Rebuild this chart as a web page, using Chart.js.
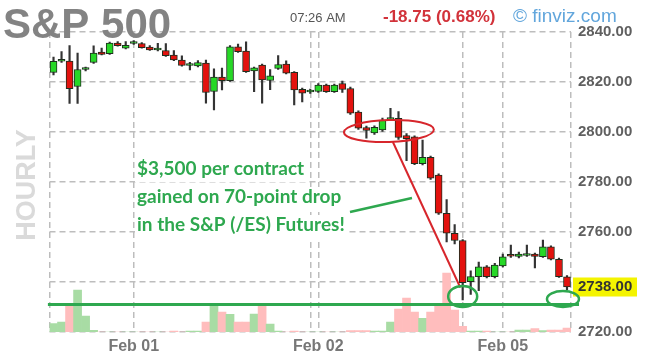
<!DOCTYPE html>
<html>
<head>
<meta charset="utf-8">
<script src="https://cdn.jsdelivr.net/npm/chart.js@4/dist/chart.umd.min.js"></script>
<style>
	body { margin: 0; background: #fff; }
	#box { width: 648px; height: 364px; }
</style>
</head>
<body>
<div id="box"><canvas id="es" width="648" height="364"></canvas></div>
<script>
// hourly bars, E-mini S&P futures
var hours = [
	'Jan 31 13:00','Jan 31 14:00','Jan 31 15:00','Jan 31 16:00','Jan 31 18:00','Jan 31 19:00','Jan 31 20:00','Jan 31 21:00','Jan 31 22:00','Jan 31 23:00',
	'Feb 01 00:00','Feb 01 01:00','Feb 01 02:00','Feb 01 03:00','Feb 01 04:00','Feb 01 05:00','Feb 01 06:00','Feb 01 07:00','Feb 01 08:00','Feb 01 09:00',
	'Feb 01 10:00','Feb 01 11:00','Feb 01 12:00','Feb 01 13:00','Feb 01 14:00','Feb 01 15:00','Feb 01 16:00','Feb 01 18:00','Feb 01 19:00','Feb 01 20:00',
	'Feb 01 21:00','Feb 01 22:00','Feb 01 23:00',
	'Feb 02 00:00','Feb 02 01:00','Feb 02 02:00','Feb 02 03:00','Feb 02 04:00','Feb 02 05:00','Feb 02 06:00','Feb 02 07:00','Feb 02 08:00','Feb 02 09:00',
	'Feb 02 10:00','Feb 02 11:00','Feb 02 12:00','Feb 02 13:00','Feb 02 14:00','Feb 02 15:00','Feb 02 16:00',
	'Feb 04 18:00','Feb 04 19:00','Feb 04 20:00','Feb 04 21:00','Feb 04 22:00','Feb 04 23:00',
	'Feb 05 00:00','Feb 05 01:00','Feb 05 02:00','Feb 05 03:00','Feb 05 04:00','Feb 05 05:00','Feb 05 06:00','Feb 05 07:00','Feb 05 08:00'
]

var open = [2823.8, 2828.3, 2828.4, 2818.2, 2825.0, 2827.8, 2832.0, 2831.3, 2835.6, 2833.5,
	2835.4, 2835.4, 2834.0, 2832.8, 2832.6, 2830.8, 2828.8, 2826.6, 2826.4, 2827.6,
	2816.2, 2822.0, 2820.5, 2834.1, 2832.4, 2824.4, 2826.8, 2820.6, 2825.4, 2827.2,
	2823.9, 2817.1, 2816.0, 2816.2, 2818.8, 2816.1, 2819.4, 2817.4, 2808.0, 2801.8,
	2799.6, 2800.8, 2805.0, 2805.5, 2798.6, 2798.1, 2787.3, 2789.9, 2782.8, 2767.5,
	2759.5, 2756.6, 2740.1, 2742.1, 2746.1, 2742.1, 2746.4, 2751.0, 2750.2, 2750.6,
	2751.2, 2750.1, 2754.1, 2749.1, 2742.1]
var high = [2830.0, 2832.2, 2834.6, 2831.6, 2826.0, 2834.5, 2833.6, 2836.0, 2836.2, 2836.2,
	2836.6, 2835.8, 2834.6, 2835.5, 2835.4, 2832.6, 2830.5, 2827.9, 2828.6, 2828.8,
	2825.3, 2825.6, 2834.6, 2835.2, 2836.1, 2826.0, 2827.2, 2825.0, 2830.6, 2828.5,
	2824.2, 2817.6, 2817.2, 2819.4, 2819.2, 2819.2, 2820.4, 2818.0, 2808.5, 2802.4,
	2802.5, 2805.6, 2809.5, 2808.2, 2799.4, 2798.5, 2796.8, 2790.4, 2783.3, 2773.0,
	2763.0, 2757.0, 2744.5, 2748.0, 2746.6, 2747.5, 2751.2, 2754.8, 2752.0, 2754.8,
	2751.6, 2756.8, 2754.5, 2749.6, 2742.6]
var low = [2822.8, 2827.8, 2811.4, 2811.4, 2824.4, 2827.4, 2830.8, 2831.0, 2834.3, 2833.2,
	2835.0, 2833.5, 2832.6, 2832.4, 2830.2, 2828.5, 2826.3, 2824.8, 2826.0, 2811.5,
	2808.8, 2816.8, 2820.2, 2831.8, 2823.8, 2816.1, 2811.5, 2816.9, 2825.0, 2823.2,
	2810.8, 2812.0, 2815.4, 2815.8, 2815.8, 2815.8, 2815.8, 2807.0, 2801.0, 2797.5,
	2799.0, 2800.2, 2804.5, 2797.0, 2788.5, 2786.9, 2786.8, 2781.0, 2767.0, 2756.0,
	2755.2, 2732.8, 2735.0, 2736.5, 2741.6, 2741.6, 2746.0, 2749.8, 2749.6, 2750.2,
	2745.6, 2749.8, 2748.8, 2741.8, 2736.8]
var close = [2828.3, 2828.6, 2817.3, 2825.0, 2825.2, 2831.6, 2831.0, 2835.6, 2834.5, 2834.7,
	2835.6, 2833.7, 2832.8, 2833.0, 2830.5, 2828.8, 2826.6, 2826.9, 2827.8, 2815.8,
	2822.0, 2820.5, 2834.1, 2832.1, 2824.1, 2825.7, 2820.8, 2822.5, 2827.0, 2823.5,
	2816.8, 2815.5, 2816.6, 2818.8, 2816.1, 2818.8, 2817.0, 2807.5, 2801.5, 2800.6,
	2801.9, 2804.8, 2805.4, 2797.8, 2797.3, 2787.3, 2789.9, 2781.5, 2767.5, 2759.5,
	2756.6, 2739.7, 2742.2, 2746.1, 2742.1, 2746.8, 2750.1, 2750.3, 2751.2, 2751.2,
	2750.2, 2754.1, 2749.1, 2742.1, 2738.0]
var volume = [2100, 2500, 6500, 10500, 4000, 400, 0, 0, 0, 0,
	0, 0, 0, 0, 0, 250, 0, 250, 250, 2500,
	6500, 5000, 4400, 2500, 2500, 4500, 6500, 1950, 250, 0,
	250, 0, 0, 0, 0, 0, 0, 375, 375, 375,
	250, 250, 2500, 5750, 8500, 5000, 3400, 5000, 7000, 14750,
	5500, 1400, 250, 250, 250, 0, 0, 0, 500, 500,
	850, 375, 500, 500, 1000]

var priceTicks = [2720, 2740, 2760, 2780, 2800, 2820, 2840]
var dayLines = ['Feb 01 00:00', 'Feb 02 00:00', 'Feb 04 19:00', 'Feb 05 00:00']
var dayNames = ['Feb 01', 'Feb 02', '', 'Feb 05']
var noteLines = ['$3,500 per contract', 'gained on 70-point drop', 'in the S&P (/ES) Futures!']

var GRID = '#bdbdbd'
var DASH = [6, 4]
var FONT = 'Liberation Sans'

function up(i) { return close[i] >= open[i] }

var overlay = {
	id: 'overlay',
	afterDraw: function(chart)
	{
		var c = chart.ctx
		var x = chart.scales.x
		var y = chart.scales.y
		var last = close[close.length - 1]

		c.save()
		// header
		c.textBaseline = 'alphabetic'
		c.fillStyle = '#838383'
		c.font = 'bold 42px ' + FONT
		c.fillText('S&P 500', 3, 38)
		c.fillStyle = '#555'
		c.font = '13px ' + FONT
		c.fillText('07:26 AM', 290, 22)
		c.fillStyle = '#d2323a'
		c.font = 'bold 17px ' + FONT
		c.fillText('-18.75 (0.68%)', 383, 22)
		c.fillStyle = '#62a6dc'
		c.font = '19px ' + FONT
		c.fillText('\u00a9 finviz.com', 513, 22)

		// side label
		c.save()
		c.translate(28, 185)
		c.rotate(-Math.PI / 2)
		c.textAlign = 'center'
		c.textBaseline = 'middle'
		c.fillStyle = '#dadada'
		c.font = 'bold 27px ' + FONT
		c.fillText('HOURLY', 0, 0)
		c.restore()

		// last price tag
		var yl = y.getPixelForValue(last)
		c.fillStyle = '#f4f400'
		c.fillRect(chart.chartArea.right + 2, yl - 9.5, 64, 19)
		c.fillStyle = '#333'
		c.font = 'bold 15px ' + FONT
		c.textBaseline = 'middle'
		c.fillText(last.toFixed(2), chart.chartArea.right + 7, yl)

		// note text
		c.font = 'bold 19px Lato'
		c.textBaseline = 'alphabetic'
		for(var i = 0; i < noteLines.length; i++)
		{
			var w = c.measureText(noteLines[i]).width
			c.fillStyle = '#fff'
			c.fillRect(135, 159 + i * 28, w + 4, 23)
			c.fillStyle = '#2ea84f'
			c.fillText(noteLines[i], 137, 175 + i * 28)
		}
		c.strokeStyle = '#2ea84f'
		c.lineWidth = 2.5
		c.beginPath()
		c.moveTo(350, 212)
		c.lineTo(412, 198)
		c.stroke()

		// red circle on the top, and the drop
		c.strokeStyle = '#d7262c'
		c.lineWidth = 2
		c.beginPath()
		c.ellipse(x.getPixelForValue(41.8), y.getPixelForValue(2800.4), 45, 11, -0.03, 0, Math.PI * 2)
		c.stroke()
		c.beginPath()
		c.moveTo(x.getPixelForValue(42.3), y.getPixelForValue(2796))
		c.lineTo(x.getPixelForValue(50.7), y.getPixelForValue(2737.8))
		c.stroke()

		// green support line and circles
		c.strokeStyle = '#2ea84f'
		c.lineWidth = 3
		c.beginPath()
		c.moveTo(x.getPixelForValue(-0.7), y.getPixelForValue(2731))
		c.lineTo(x.getPixelForValue(65.5), y.getPixelForValue(2731))
		c.stroke()
		c.lineWidth = 2.5
		c.beginPath()
		c.ellipse(x.getPixelForValue(51), y.getPixelForValue(2734.2), 14.5, 10.5, 0, 0, Math.PI * 2)
		c.stroke()
		c.beginPath()
		c.ellipse(x.getPixelForValue(63.5), y.getPixelForValue(2733.2), 16, 8, 0, 0, Math.PI * 2)
		c.stroke()
		c.restore()
	}
}

window.onload = function()
{
	var bodies = [], wicks = [], bodyColor = [], volColor = []
	for(var i = 0; i < hours.length; i++)
	{
		bodies[i] = [open[i], close[i]]
		wicks[i] = [low[i], high[i]]
		bodyColor[i] = up(i) ? '#27d827' : '#e3120e'
		volColor[i] = up(i) ? '#a8dca4' : '#ffbdbd'
	}

	new Chart(document.getElementById('es'), {
		type: 'bar',
		data: {
			labels: hours,
			datasets: [
				{
					data: bodies,
					backgroundColor: bodyColor,
					borderColor: '#1e2e1e',
					borderWidth: 1,
					borderSkipped: false,
					barThickness: 7,
					minBarLength: 2,
					grouped: false,
					order: 0
				},
				{
					data: wicks,
					backgroundColor: '#333',
					barThickness: 1.5,
					grouped: false,
					order: 1
				},
				{
					data: volume,
					yAxisID: 'v',
					backgroundColor: volColor,
					barPercentage: 1,
					categoryPercentage: 1,
					grouped: false,
					order: 2
				}
			]
		},
		options: {
			responsive: false,
			animation: false,
			layout: { padding: { left: 49.5, top: 32, right: 0, bottom: 0 } },
			plugins: {
				legend: { display: false },
				tooltip: { enabled: false }
			},
			scales: {
				x: {
					offset: true,
					grid: {
						offset: false,
						drawTicks: false,
						lineWidth: 1.5,
						color: function(ctx) { return dayLines.indexOf(hours[ctx.index]) >= 0 ? GRID : 'rgba(0,0,0,0)' },
						borderDash: DASH
					},
					border: { display: false, dash: DASH },
					ticks: {
						autoSkip: false,
						maxRotation: 0,
						padding: 5,
						color: '#777',
						font: { family: FONT, size: 16, weight: 'bold' },
						callback: function(v, i) {
							var k = dayLines.indexOf(hours[i])
							return k >= 0 ? dayNames[k] : ''
						}
					},
					afterFit: function(s) { s.height = 32 }
				},
				edge: {
					type: 'linear',
					position: 'top',
					min: 0,
					max: 1,
					grid: { color: GRID, lineWidth: 1.5, drawTicks: false, borderDash: DASH },
					border: { display: false, dash: DASH },
					ticks: { display: false, stepSize: 1 },
					afterFit: function(s) { s.height = 0 }
				},
				y: {
					position: 'right',
					min: 2720,
					max: 2840,
					afterBuildTicks: function(s) { s.ticks = priceTicks.map(function(v) { return { value: v } }) },
					grid: { color: GRID, lineWidth: 1.5, drawTicks: false, borderDash: DASH },
					border: { display: false, dash: DASH },
					ticks: {
						padding: 7,
						color: '#5f5f5f',
						font: { family: FONT, size: 15, weight: 'bold' },
						callback: function(v) {
							if(Math.abs(v - close[close.length - 1]) < 5) return ''
							return v.toFixed(2)
						}
					},
					afterFit: function(s) { s.width = 77 }
				},
				v: {
					display: false,
					min: 0,
					max: 75000
				}
			}
		},
		plugins: [overlay]
	})
}
</script>
</body>
</html>
